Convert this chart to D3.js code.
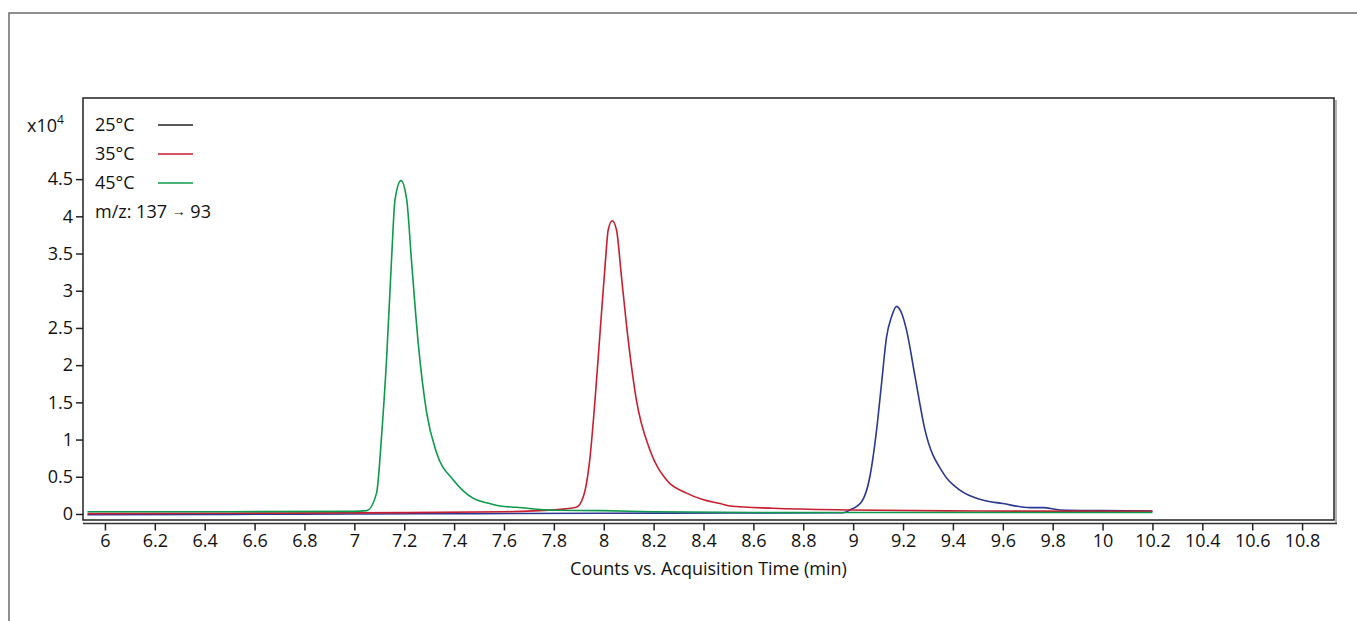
<!DOCTYPE html>
<html>
<head>
<meta charset="utf-8">
<script src="https://cdn.jsdelivr.net/npm/d3@7"></script>
<style>
  body { margin: 0; background: #fff; }
  svg text { font-family: "Open Sans", sans-serif; fill: #111; }
</style>
</head>
<body>
<svg id="chart" width="1357" height="621"></svg>
<script>
// chromatogram, m/z 137 -> 93 at three column temperatures

const width = 1357;
const height = 621;
const fontSize = "18px";

const xTicks = [6, 6.2, 6.4, 6.6, 6.8, 7, 7.2, 7.4, 7.6, 7.8, 8, 8.2, 8.4, 8.6, 8.8, 9, 9.2, 9.4, 9.6, 9.8, 10, 10.2, 10.4, 10.6, 10.8];
const yTicks = [0, 0.5, 1, 1.5, 2, 2.5, 3, 3.5, 4, 4.5];

const seriesNames = ["25°C", "35°C", "45°C"];
const seriesColors = ["#2b3891", "#c81e2f", "#0c9a4b"];
const legendColors = ["#222222", "#c81e2f", "#0c9a4b"];

// 25°C (counts x10^4)
const t25 = [5.93, 6.5, 7.0, 7.5, 8.0, 8.5, 8.96, 8.987, 9.034, 9.067, 9.094, 9.114, 9.134, 9.154, 9.174, 9.194, 9.214, 9.248, 9.288, 9.361, 9.428, 9.515, 9.6, 9.709, 9.762, 9.83, 10.0, 10.2];
const v25 = [-0.01, -0.005, 0.0, 0.005, 0.01, 0.013, 0.017, 0.054, 0.165, 0.50, 1.13, 1.76, 2.38, 2.65, 2.79, 2.70, 2.47, 1.85, 1.13, 0.55, 0.32, 0.19, 0.14, 0.085, 0.085, 0.054, 0.045, 0.04];

// 35°C
const t35 = [5.93, 6.5, 7.0, 7.6, 7.8, 7.89, 7.918, 7.944, 7.965, 7.985, 8.005, 8.018, 8.034, 8.051, 8.071, 8.098, 8.131, 8.185, 8.252, 8.332, 8.4, 8.466, 8.506, 8.68, 8.987, 9.5, 10.2];
const v35 = [0.005, 0.01, 0.015, 0.03, 0.055, 0.09, 0.23, 0.73, 1.53, 2.43, 3.32, 3.82, 3.94, 3.82, 3.19, 2.34, 1.53, 0.86, 0.457, 0.28, 0.19, 0.14, 0.107, 0.077, 0.054, 0.04, 0.035];

// 45°C
const t45 = [5.93, 6.5, 7.0, 7.05, 7.089, 7.109, 7.129, 7.149, 7.163, 7.187, 7.21, 7.229, 7.256, 7.29, 7.33, 7.397, 7.477, 7.53, 7.584, 7.65, 7.8, 8.0, 8.2, 8.6, 9.2, 10.2];
const v45 = [0.03, 0.03, 0.035, 0.045, 0.28, 1.04, 2.07, 3.41, 4.22, 4.48, 4.22, 3.41, 2.30, 1.36, 0.82, 0.457, 0.21, 0.15, 0.107, 0.09, 0.05, 0.045, 0.03, 0.02, 0.02, 0.02];

const seriesTimes = [t25, t35, t45];
const seriesValues = [v25, v35, v45];

const svg = d3.select("#chart");

// outer frame (only top and left edges show)
svg.append("path")
  .attr("d", `M9,${height} V13 H${width}`)
  .attr("fill", "none")
  .attr("stroke", "#6b6b6b")
  .attr("stroke-width", 1.5);

const plot = { left: 83, top: 98, right: 1334, bottom: 520 };

const x = d3.scaleLinear()
  .domain([5.912, 10.928])
  .range([plot.left, plot.right]);

const y = d3.scaleLinear()
  .domain([-0.081, 5.59])
  .range([plot.bottom, plot.top]);

// plot box with a light shadow
svg.append("path")
  .attr("d", `M${plot.right + 2},${plot.top + 2} V${plot.bottom + 3}`)
  .attr("stroke", "#9a9a9a")
  .attr("stroke-width", 1.5);
svg.append("rect")
  .attr("x", plot.left)
  .attr("y", plot.top)
  .attr("width", plot.right - plot.left)
  .attr("height", plot.bottom - plot.top)
  .attr("fill", "none")
  .attr("stroke", "#222")
  .attr("stroke-width", 1.5);

// curves
const line = d3.line()
  .x(d => x(d[0]))
  .y(d => y(d[1]))
  .curve(d3.curveMonotoneX);

seriesNames.forEach((name, i) => {
  const pts = seriesTimes[i].map((t, j) => [t, seriesValues[i][j]]);
  svg.append("path")
    .datum(pts)
    .attr("d", line)
    .attr("fill", "none")
    .attr("stroke", seriesColors[i])
    .attr("stroke-width", 1.6);
});

// y axis
const yAxis = svg.append("g")
  .attr("transform", `translate(${plot.left},0)`)
  .call(d3.axisLeft(y).tickValues(yTicks).tickSize(7).tickPadding(3).tickFormat(d => d));
yAxis.select(".domain").remove();
yAxis.selectAll("line").attr("stroke", "#222").attr("stroke-width", 1.5);
yAxis.selectAll("text").style("font-size", fontSize).style("font-family", "'Open Sans', sans-serif").attr("fill", "#111");

// x axis (double base line)
svg.append("line")
  .attr("x1", plot.left).attr("x2", plot.right + 3)
  .attr("y1", plot.bottom + 3.5).attr("y2", plot.bottom + 3.5)
  .attr("stroke", "#333")
  .attr("stroke-width", 1.5);

const xAxis = svg.append("g")
  .attr("transform", `translate(0,${plot.bottom + 3.5})`)
  .call(d3.axisBottom(x).tickValues(xTicks).tickSize(7).tickPadding(4).tickFormat(d => d));
xAxis.select(".domain").remove();
xAxis.selectAll("line").attr("stroke", "#222").attr("stroke-width", 1.5);
xAxis.selectAll("text").style("font-size", fontSize).style("font-family", "'Open Sans', sans-serif").attr("fill", "#111");

svg.append("text")
  .attr("x", x(8.42))
  .attr("y", 575)
  .attr("text-anchor", "middle")
  .style("font-size", fontSize)
  .text("Counts vs. Acquisition Time (min)");

// y multiplier
const mult = svg.append("text")
  .attr("x", 27)
  .attr("y", 132)
  .style("font-size", fontSize);
mult.append("tspan").text("x10");
mult.append("tspan").attr("dy", -8).style("font-size", "12px").text("4");

// legend
seriesNames.forEach((name, i) => {
  const ly = 125 + i * 29;
  svg.append("text")
    .attr("x", 95)
    .attr("y", ly + 6)
    .style("font-size", fontSize)
    .text(name);
  svg.append("line")
    .attr("x1", 158).attr("x2", 193)
    .attr("y1", ly).attr("y2", ly)
    .attr("stroke", legendColors[i])
    .attr("stroke-width", 1.5);
});
const mz = svg.append("text")
  .attr("x", 95)
  .attr("y", 125 + 3 * 29 + 6)
  .style("font-size", fontSize);
mz.append("tspan").text("m/z: 137 ");
mz.append("tspan").style("font-size", "14px").attr("dy", -2).text("\u2192");
mz.append("tspan").attr("dy", 2).text(" 93");
</script>
</body>
</html>
